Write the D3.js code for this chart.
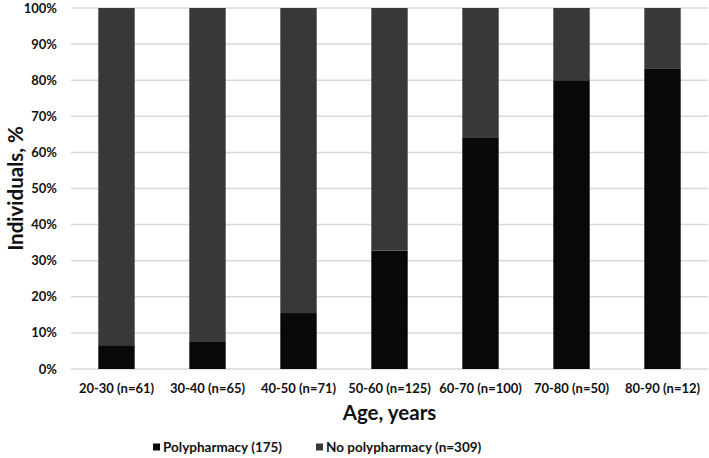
<!DOCTYPE html>
<html>
<head>
<meta charset="utf-8">
<script src="https://cdn.jsdelivr.net/npm/d3@7"></script>
<style>
  body { margin: 0; background: #fff; }
  text { font-family: Lato, "Open Sans", sans-serif; font-weight: 700; fill: #111; }
</style>
</head>
<body>
<div id="chart"></div>
<script>
// age groups and share with polypharmacy (%)
const ageGroups = ["20-30 (n=61)", "30-40 (n=65)", "40-50 (n=71)", "50-60 (n=125)", "60-70 (n=100)", "70-80 (n=50)", "80-90 (n=12)"];
const polyPct = [6.6, 7.7, 15.5, 32.8, 64, 80, 83.3];
const noPolyPct = [93.4, 92.3, 84.5, 67.2, 36, 20, 16.7];
const seriesNames = ["Polypharmacy (175)", "No polypharmacy (n=309)"];
const yTicks = [0, 10, 20, 30, 40, 50, 60, 70, 80, 90, 100];

const width = 709, height = 458;
const margin = { top: 8, right: 1, bottom: 89, left: 71 };
const colors = ["#080808", "#383838"];

const svg = d3.select("#chart").append("svg")
  .attr("width", width)
  .attr("height", height);

const x = d3.scaleBand()
  .domain(ageGroups)
  .range([margin.left, width - margin.right])
  .paddingInner(0.6)
  .paddingOuter(0.3);

const y = d3.scaleLinear()
  .domain([0, 100])
  .range([height - margin.bottom, margin.top]);

// gridlines
svg.append("g")
  .selectAll("line")
  .data(yTicks)
  .enter().append("line")
  .attr("x1", margin.left)
  .attr("x2", width - margin.right)
  .attr("y1", d => y(d))
  .attr("y2", d => y(d))
  .attr("stroke", "#d9d9d9")
  .attr("stroke-width", 1.5);

// y tick labels
svg.append("g")
  .selectAll("text")
  .data(yTicks)
  .enter().append("text")
  .attr("x", 57)
  .attr("y", d => y(d))
  .attr("dy", "0.35em")
  .attr("text-anchor", "end")
  .style("font-size", "13px")
  .text(d => d + "%");

// stacked bars
const rows = ageGroups.map((g, i) => ({ group: g, poly: polyPct[i], noPoly: noPolyPct[i] }));
const stack = d3.stack().keys(["poly", "noPoly"]);
const layers = stack(rows);

svg.append("g")
  .selectAll("g")
  .data(layers)
  .enter().append("g")
  .attr("fill", (d, i) => colors[i])
  .selectAll("rect")
  .data(d => d)
  .enter().append("rect")
  .attr("x", d => x(d.data.group))
  .attr("width", x.bandwidth())
  .attr("y", d => y(d[1]))
  .attr("height", d => y(d[0]) - y(d[1]));

// x tick labels
svg.append("g")
  .selectAll("text")
  .data(ageGroups)
  .enter().append("text")
  .attr("x", d => x(d) + x.bandwidth() / 2)
  .attr("y", 393)
  .attr("text-anchor", "middle")
  .style("font-size", "13px")
  .text(d => d);

// axis titles
svg.append("text")
  .attr("x", (margin.left + width - margin.right) / 2)
  .attr("y", 420)
  .attr("text-anchor", "middle")
  .style("font-size", "20.5px")
  .text("Age, years");

svg.append("text")
  .attr("transform", `translate(23, ${(margin.top + height - margin.bottom) / 2}) rotate(-90)`)
  .attr("text-anchor", "middle")
  .style("font-size", "20.5px")
  .text("Individuals, %");

// legend
const legendX = [153, 316];
const legend = svg.selectAll(".legend")
  .data(seriesNames)
  .enter().append("g")
  .attr("class", "legend")
  .attr("transform", (d, i) => `translate(${legendX[i]}, 447)`);

legend.append("rect")
  .attr("x", 0)
  .attr("y", -3.5)
  .attr("width", 7)
  .attr("height", 7)
  .attr("fill", (d, i) => colors[i]);

legend.append("text")
  .attr("x", 10)
  .attr("y", 0)
  .attr("dy", "0.35em")
  .style("font-size", "13.5px")
  .text(d => d);
</script>
</body>
</html>
